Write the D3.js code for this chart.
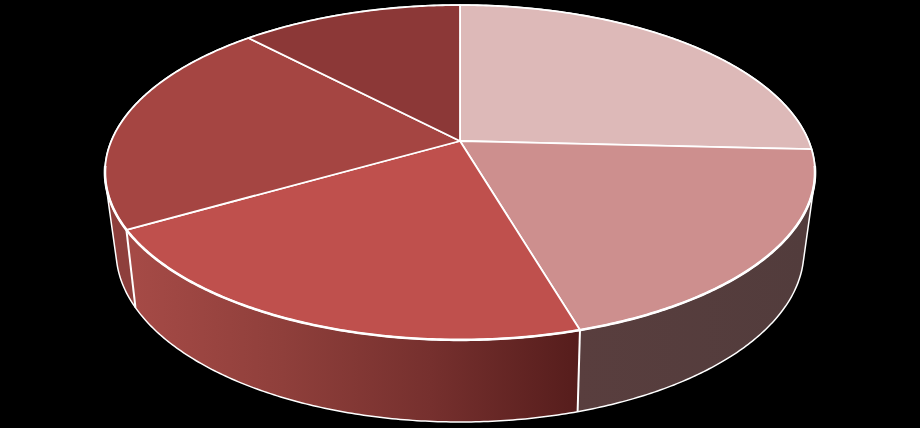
<!DOCTYPE html>
<html>
<head>
<meta charset="utf-8">
<script src="https://cdn.jsdelivr.net/npm/d3@7"></script>
<style>
  html, body { margin: 0; padding: 0; background: #000; }
  svg { display: block; }
</style>
</head>
<body>
<script>
// share of each slice, clockwise from 12 o'clock
var sliceNames = ["A", "B", "C", "D", "E"]
var sliceValues = [25.8, 19.65, 21.25, 21.2, 12.1]

var topColors = ["#ddb9b8", "#cd8f8e", "#bf504d", "#a54542", "#8c3837"]
var wallStops = [
    ["#6e5a5a", "#6e5a5a"],
    ["#593e3e", "#523c3c"],
    ["#a54a46", "#8f3f3b", "#76302e", "#561d1c"],
    ["#8e3f3c", "#8e3f3c"],
    ["#6a2b2a", "#6a2b2a"]
]

var width = 920, height = 428

// perspective of the tilted disc, top face and bottom face
var topFace = {cx: 460, b: 141, a: 135, k: -0.188, f: 348.7}
var bottomFace = {cx: 460, b: 216.8, a: 120.8, k: -0.2, f: 337}

function project(face, angle){
    var u = Math.sin(angle), v = -Math.cos(angle)
    var w = 1 + face.k * v
    return [face.cx + face.f * u / w, (face.a * v + face.b) / w]
}

function arcPoints(face, a0, a1){
    var n = Math.max(2, Math.ceil((a1 - a0) / 0.01))
    return d3.range(n + 1).map((i) => {return project(face, a0 + (a1 - a0) * i / n)})
}

var svg = d3.select("body").append("svg")
    .attr("width", width)
    .attr("height", height)
    .style("background", "#000")

var pie = d3.pie().sort(null).value((d) => {return d})
var slices = pie(sliceValues)
var line = d3.line()

var defs = svg.append("defs")
slices.forEach((d, i) => {
    var xs = arcPoints(bottomFace, d.startAngle, d.endAngle).map((p) => {return p[0]})
    var grad = defs.append("linearGradient")
        .attr("id", "wall" + i)
        .attr("gradientUnits", "userSpaceOnUse")
        .attr("x1", d3.min(xs)).attr("x2", d3.max(xs))
        .attr("y1", 0).attr("y2", 0)
    wallStops[i].forEach((c, j) => {
        grad.append("stop")
            .attr("offset", j / (wallStops[i].length - 1))
            .attr("stop-color", c)
    })
})

// back to front, so the nearest wall ends up on top
var order = slices.map((d, i) => {return i})
    .sort((a, b) => {
        var mid = (d) => {return -Math.cos((d.startAngle + d.endAngle) / 2)}
        return mid(slices[a]) - mid(slices[b])
    })

var allPoints = []
var walls = svg.append("g")
order.forEach((i) => {
    var d = slices[i]
    var pts = arcPoints(topFace, d.startAngle, d.endAngle)
        .concat(arcPoints(bottomFace, d.startAngle, d.endAngle))
    allPoints = allPoints.concat(pts)
    walls.append("path")
        .attr("d", line(d3.polygonHull(pts)) + "Z")
        .attr("fill", "url(#wall" + i + ")")
})

// outline round the whole drum
svg.append("path")
    .attr("d", line(d3.polygonHull(allPoints)) + "Z")
    .attr("fill", "none")
    .attr("stroke", "#fff")
    .attr("stroke-width", 1.5)
    .attr("stroke-linejoin", "round")

// wall edges at the slice borders facing us
slices.forEach((d) => {
    var v = -Math.cos(d.startAngle)
    if(v > 0.3){
        svg.append("path")
            .attr("d", line([project(topFace, d.startAngle), project(bottomFace, d.startAngle)]))
            .attr("stroke", "#fff")
            .attr("stroke-width", 2)
    }
})

svg.append("g").selectAll("path")
    .data(slices)
    .enter()
    .append("path")
    .attr("class", "slice")
    .attr("data-name", (d, i) => {return sliceNames[i]})
    .attr("d", (d) => {
        return line([[topFace.cx, topFace.b]].concat(arcPoints(topFace, d.startAngle, d.endAngle))) + "Z"
    })
    .attr("fill", (d, i) => {return topColors[i]})
    .attr("stroke", "#fff")
    .attr("stroke-width", 1.8)
    .attr("stroke-linejoin", "round")

// the near rim reads heavier than the rest
svg.append("path")
    .attr("d", line(arcPoints(topFace, Math.PI / 2 + 0.15, Math.PI * 1.5 - 0.15)))
    .attr("fill", "none")
    .attr("stroke", "#fff")
    .attr("stroke-width", 2.6)
</script>
</body>
</html>
